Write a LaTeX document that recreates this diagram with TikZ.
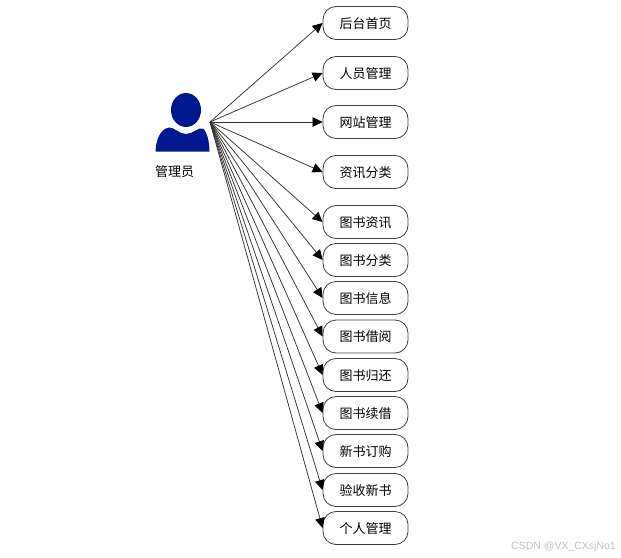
\documentclass[tikz,border=0pt]{standalone}
\usepackage{fontspec}
\newfontfamily\cjk{Noto Sans CJK SC}
\usetikzlibrary{arrows.meta}
\definecolor{actorblue}{HTML}{00188F}
\tikzset{
  menubox/.style={draw=black!75,line width=0.8pt,rounded corners=13pt,minimum width=85pt,minimum height=33pt,inner sep=0pt,font=\cjk\fontsize{13}{13}\selectfont,fill=white,text depth=0pt,text height=10.5pt},
  conn/.style={draw=black!80,line width=0.75pt,-{Triangle[length=10pt,width=9.5pt,color=black]}},
  caption/.style={inner sep=0pt,font=\cjk\fontsize{13}{13}\selectfont},
  mark text/.style={inner sep=0pt,text=black!25,font=\fontspec{Liberation Sans}\fontsize{10.5}{11}\selectfont}
}
\begin{document}
\begin{tikzpicture}[x=1pt,y=-1pt]
\useasboundingbox (0,0) rectangle (621,557);
\fill[actorblue] (186,110) ellipse [x radius=15,y radius=17];
\fill[actorblue] (155.5,151.5) .. controls (156,140) and (160,129) .. (169,127.5)
  .. controls (174,127) and (179,134) .. (186,134)
  .. controls (193,134) and (198,127) .. (203,128.5)
  .. controls (207,132) and (209.5,142) .. (209.5,151.5) -- cycle;
\node[caption] (actorlabel) at (174.5,171.5) {管理员};
\coordinate (src) at (210,122);
\foreach \nm/\yy/\tx in {a/23/后台首页,b/73/人员管理,c/122/网站管理,d/172/资讯分类,e/222/图书资讯,f/260/图书分类,g/298/图书信息,h/336.5/图书借阅,i/375/图书归还,j/413/图书续借,k/451/新书订购,l/490/验收新书,m/528/个人管理}{
  \node[menubox] (\nm) at (365.5,\yy) {\tx};
}
\foreach \nm in {a,b,c,d,e,f,g,h,i,j,k,l,m}{
  \draw[conn] (src) -- (\nm.west);
}
\node[mark text,anchor=east] (wm) at (616,546.5) {CSDN @VX\_CXsjNo1};
\end{tikzpicture}
\end{document}
